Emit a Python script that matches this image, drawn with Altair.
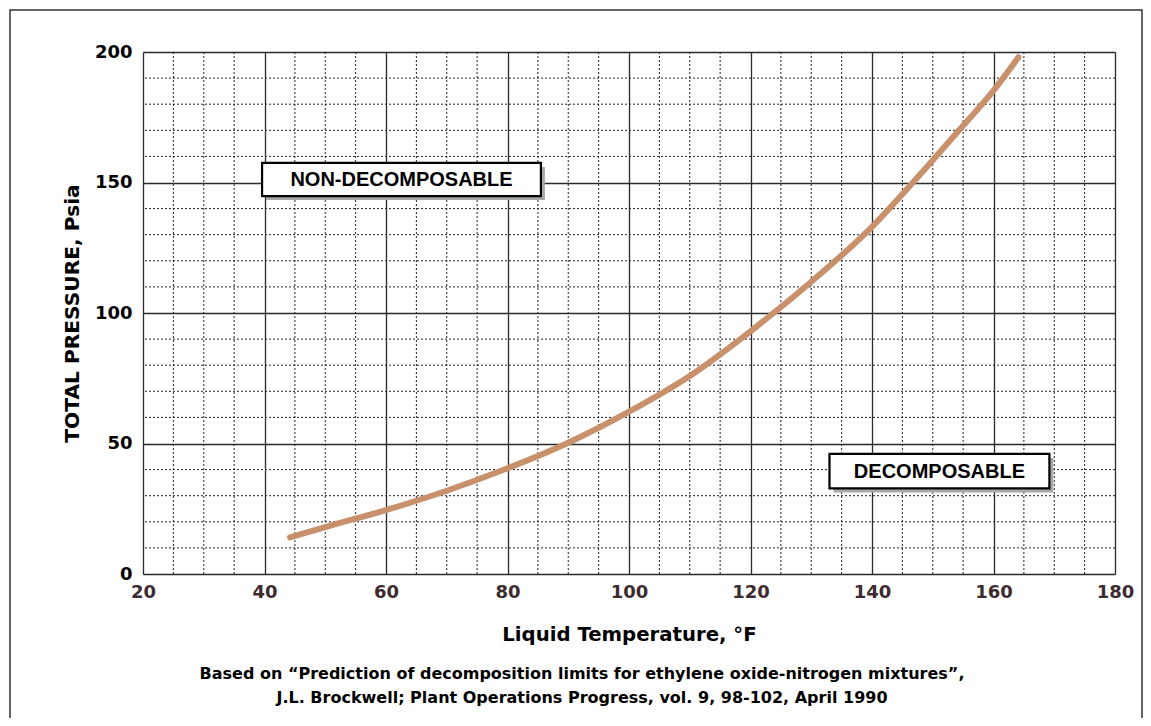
import altair as alt
import pandas as pd

# ---- data ----
temp_f = [44.2, 50, 60, 70, 80, 90, 100, 110, 120, 130, 140, 145, 150, 155, 160, 164.1]
pressure_psia = [14.0, 18.0, 24.5, 31.9, 40.5, 50.3, 62.2, 75.9, 93.0, 112.0, 133.0, 145.5, 158.5, 171.8, 185.2, 198.0]

x_major = [20, 40, 60, 80, 100, 120, 140, 160, 180]
y_major = [0, 50, 100, 150, 200]
x_minor = [25, 30, 35, 45, 50, 55, 65, 70, 75, 85, 90, 95, 105, 110, 115, 125, 130, 135, 145, 150, 155, 165, 170, 175]
y_minor = [10, 20, 30, 40, 60, 70, 80, 90, 110, 120, 130, 140, 160, 170, 180, 190]

region_labels = ["NON-DECOMPOSABLE", "DECOMPOSABLE"]
box_x1 = [39.6, 133.0]
box_x2 = [85.5, 169.2]
box_y1 = [144.8, 32.8]
box_y2 = [157.5, 46.0]

footnote_1 = "Based on \u201cPrediction of decomposition limits for ethylene oxide-nitrogen mixtures\u201d,"
footnote_2 = "J.L. Brockwell; Plant Operations Progress, vol. 9, 98-102, April 1990"

FONT = "DejaVu Sans"
BOXFONT = "Liberation Sans"

curve_df = pd.DataFrame({"t": temp_f, "p": pressure_psia})
xminor_df = pd.DataFrame({"t": x_minor})
yminor_df = pd.DataFrame({"p": y_minor})
box_df = pd.DataFrame({
    "label": region_labels,
    "x1": box_x1, "x2": box_x2, "y1": box_y1, "y2": box_y2,
})
box_df["xm"] = (box_df["x1"] + box_df["x2"]) / 2
box_df["ym"] = (box_df["y1"] + box_df["y2"]) / 2
foot1_df = pd.DataFrame({"line": [footnote_1]})
foot2_df = pd.DataFrame({"line": [footnote_2]})
one_df = pd.DataFrame({"a": [0]})

xs = alt.Scale(domain=[20, 180], nice=False, zero=False)
ys = alt.Scale(domain=[0, 200], nice=False)

x_axis = alt.Axis(
    values=x_major, grid=True, ticks=False, domain=False,
    gridColor="#2a2a2a", gridWidth=1.3,
    labelFont=FONT, labelFontSize=18, labelFontWeight="bold", labelColor="#3d2b30",
    labelPadding=9, labelFlush=False,
    title="Liquid Temperature, \u00b0F", titleFont=FONT, titleFontSize=19.7,
    titleFontWeight="bold", titleColor="#000000",
    titleY=66, titleBaseline="alphabetic",
)
y_axis = alt.Axis(
    values=y_major, grid=True, ticks=False, domain=False,
    gridColor="#2a2a2a", gridWidth=1.3,
    labelFont=FONT, labelFontSize=18, labelFontWeight="bold", labelColor="#000000",
    labelPadding=11, labelFlush=False,
    title="TOTAL PRESSURE, Psia", titleFont=FONT, titleFontSize=20.2,
    titleFontWeight="bold", titleColor="#000000",
    titleX=-65, titleY=261, titleAngle=-90, titleAlign="center",
    titleBaseline="alphabetic",
)

minor_x = alt.Chart(xminor_df).mark_rule(
    color="#222222", strokeWidth=1, strokeDash=[2, 2]
).encode(x=alt.X("t:Q", scale=xs, axis=x_axis))

minor_y = alt.Chart(yminor_df).mark_rule(
    color="#222222", strokeWidth=1, strokeDash=[2, 2]
).encode(y=alt.Y("p:Q", scale=ys, axis=y_axis))

shadow = alt.Chart(box_df).mark_rect(
    fill="#a8a8a8", xOffset=4, x2Offset=4, yOffset=4, y2Offset=4
).encode(
    x=alt.X("x1:Q", scale=xs, axis=x_axis), x2="x2:Q",
    y=alt.Y("y1:Q", scale=ys, axis=y_axis), y2="y2:Q",
)

boxes = alt.Chart(box_df).mark_rect(
    fill="#ffffff", stroke="#000000", strokeWidth=2.2
).encode(
    x=alt.X("x1:Q", scale=xs, axis=x_axis), x2="x2:Q",
    y=alt.Y("y1:Q", scale=ys, axis=y_axis), y2="y2:Q",
)

box_text = alt.Chart(box_df).mark_text(
    font=BOXFONT, fontSize=20, fontWeight="bold", color="#000000",
    align="center", baseline="middle", dy=1
).encode(
    x=alt.X("xm:Q", scale=xs, axis=x_axis),
    y=alt.Y("ym:Q", scale=ys, axis=y_axis),
    text="label:N",
)

curve = alt.Chart(curve_df).mark_line(
    color="#C8906B", strokeWidth=6, strokeCap="round", interpolate="monotone"
).encode(
    x=alt.X("t:Q", scale=xs, axis=x_axis),
    y=alt.Y("p:Q", scale=ys, axis=y_axis),
)

foot1 = alt.Chart(foot1_df).mark_text(
    font=FONT, fontSize=16, fontWeight="bold", color="#000000",
    align="center", baseline="alphabetic"
).encode(x=alt.value(439), y=alt.value(627), text="line:N")

foot2 = alt.Chart(foot2_df).mark_text(
    font=FONT, fontSize=16, fontWeight="bold", color="#000000",
    align="center", baseline="alphabetic"
).encode(x=alt.value(439), y=alt.value(651), text="line:N")

frame = alt.Chart(one_df).mark_rect(
    fillOpacity=0, stroke="#333333", strokeWidth=1.5
).encode(
    x=alt.value(-133), x2=alt.value(999), y=alt.value(-42), y2=alt.value(740)
)

chart = alt.layer(
    minor_x, minor_y, shadow, boxes, box_text, curve, foot1, foot2, frame
).properties(
    width=972, height=522,
    autosize=alt.AutoSizeParams(type="none"),
    padding={"left": 135, "top": 44, "right": 28, "bottom": 144},
).configure_view(stroke="#2a2a2a", strokeWidth=1.5).configure(background="#ffffff")

chart.save("out.html", embed_options={"renderer": "svg", "actions": False})
